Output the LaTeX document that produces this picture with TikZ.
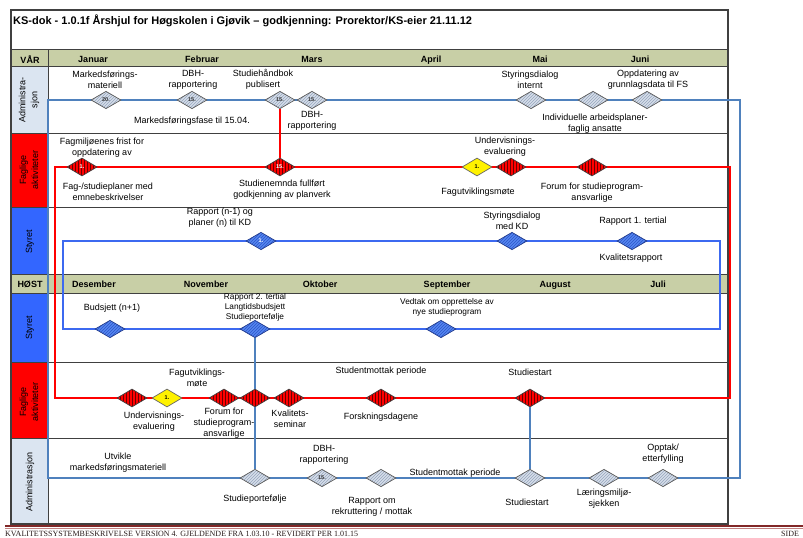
\documentclass[tikz,border=0pt]{standalone}
\usepackage{fontspec}
\setmainfont{Liberation Sans}
\newfontfamily\footfont{Liberation Serif}
\usetikzlibrary{shapes.geometric,patterns}

\definecolor{frame}{RGB}{64,64,64}
\definecolor{band}{RGB}{200,207,166}
\definecolor{admcell}{RGB}{219,229,241}
\definecolor{styrcell}{RGB}{51,102,255}
\definecolor{admline}{RGB}{79,129,189}
\definecolor{styrline}{RGB}{60,105,240}
\definecolor{gfill}{RGB}{214,222,233}
\definecolor{ghatch}{RGB}{150,165,190}
\definecolor{gborder}{RGB}{90,90,90}
\definecolor{rhatch}{RGB}{110,0,0}
\definecolor{bfill}{RGB}{85,135,240}
\definecolor{bhatch}{RGB}{45,85,200}
\definecolor{bborder}{RGB}{35,60,140}
\definecolor{footred}{RGB}{130,40,40}
\definecolor{footlight}{RGB}{195,130,130}
\definecolor{foottext}{RGB}{40,25,25}

\tikzset{
  txt/.style={font=\fontsize{9}{11}\selectfont, align=center, inner sep=0pt},
  smalltxt/.style={font=\fontsize{8.3}{10}\selectfont, align=center, inner sep=0pt},
  month/.style={font=\bfseries\fontsize{9}{11}\selectfont, inner sep=0pt,
    text height=6.6pt, text depth=0pt, anchor=south},
  celltxt/.style={font=\fontsize{9}{12}\selectfont, align=center, inner sep=0pt, rotate=90},
  dia/.style={diamond, minimum width=30pt, minimum height=17.5pt, inner sep=0pt,
    line width=0.7pt, font=\bfseries\fontsize{5.5}{6}\selectfont},
  gdia/.style={dia, preaction={fill=gfill}, pattern=north east lines,
    pattern color=ghatch, draw=gborder, text=black!80},
  rdia/.style={dia, minimum height=18pt, preaction={fill=red}, pattern=vertical lines,
    pattern color=rhatch, draw=black!75, text=white},
  ydia/.style={dia, minimum height=18pt, fill=yellow, draw=black!60, text=black},
  bdia/.style={dia, preaction={fill=bfill}, pattern=north east lines,
    pattern color=bhatch, draw=bborder, text=white},
  admloop/.style={draw=admline, line width=1.8pt},
  styrloop/.style={draw=styrline, line width=1.8pt},
  redloop/.style={draw=red, line width=2pt},
  redconn/.style={draw=red, line width=1.5pt},
  admconn/.style={draw=admline, line width=1.5pt},
  rule/.style={draw=frame, line width=1pt},
  foot/.style={anchor=north west, inner sep=0pt, text=foottext,
    font=\footfont\fontsize{8}{9}\selectfont},
}

\begin{document}
\begin{tikzpicture}[x=1pt,y=-1pt]
\clip (0,0) rectangle (803,538);
\fill[white] (0,0) rectangle (803,538);

% ---- table: bands and side cells
\fill[band] (11,49) rectangle (728,66);
\fill[band] (11,274) rectangle (728,293);
\fill[admcell] (11,66) rectangle (48,133);
\fill[red] (11,133) rectangle (48,207);
\fill[styrcell] (11,207) rectangle (48,274);
\fill[styrcell] (11,293) rectangle (48,362);
\fill[red] (11,362) rectangle (48,438);
\fill[admcell] (11,438) rectangle (48,524);

% ---- table rules
\foreach \yy in {49,66,133,207,274,293,362,438}
  \draw[rule] (11,\yy) -- (728,\yy);
\draw[rule] (48,49) -- (48,524);
\draw[frame, line width=1.3pt] (11,10) rectangle (728,524);

% ---- title
\node[anchor=west, font=\bfseries\fontsize{11}{13}\selectfont, inner sep=0pt] (title) at (13,21)
  {KS-dok - 1.0.1f Årshjul for Høgskolen i Gjøvik – godkjenning: Prorektor/KS-eier 21.11.12};

% ---- season headers and months
\node[month] (var) at (30,63.5) {VÅR};
\node[month] (jan) at (93,62.5) {Januar};
\node[month] (feb) at (202,62.5) {Februar};
\node[month] (mar) at (312,62.5) {Mars};
\node[month] (apr) at (431,62.5) {April};
\node[month] (mai) at (540,62.5) {Mai};
\node[month] (jun) at (640,62.5) {Juni};

\node[month] (host) at (30,287.5) {HØST};
\node[month] (des) at (94,287.5) {Desember};
\node[month] (nov) at (206,287.5) {November};
\node[month] (okt) at (320,287.5) {Oktober};
\node[month] (sep) at (447,287.5) {September};
\node[month] (aug) at (555,287.5) {August};
\node[month] (jul) at (658,287.5) {Juli};

% ---- side labels
\node[celltxt] (c1) at (29,100) {Administra-\\sjon};
\node[celltxt] (c2) at (29,170) {Faglige\\aktiviteter};
\node[celltxt] (c3) at (30,242) {Styret};
\node[celltxt] (c4) at (30,328) {Styret};
\node[celltxt] (c5) at (29,402) {Faglige\\aktiviteter};
\node[celltxt] (c6) at (30,482) {Administrasjon};

% ---- yearly loops
\draw[redloop] (55,167) rectangle (730,398);
\draw[styrloop] (63,241) rectangle (720,329);
\draw[admloop] (48,100) rectangle (740,478);

% ---- administration, spring
\node[gdia] (a1) at (106,100) {20.};
\node[gdia] (a2) at (192,100) {15.};
\node[gdia] (a3) at (280,100) {15.};
\node[gdia] (a4) at (312,100) {15.};
\node[gdia] (a5) at (531,100) {};
\node[gdia] (a6) at (593,100) {};
\node[gdia] (a7) at (647,100) {};
\node[txt] at (105,79.5) {Markedsførings-\\materiell};
\node[txt] at (193,79.5) {DBH-\\rapportering};
\node[txt] at (263,79.5) {Studiehåndbok\\publisert};
\node[txt] at (192,121) {Markedsføringsfase til 15.04.};
\node[txt] at (312,121) {DBH-\\rapportering};
\node[txt] at (530,79.5) {Styringsdialog\\internt};
\node[txt] at (648,79.5) {Oppdatering av\\grunnlagsdata til FS};
\node[txt] at (595,123.5) {Individuelle arbeidsplaner-\\faglig ansatte};

% ---- academic activities, spring
\node[rdia] (f1) at (82,167) {1.};
\node[rdia] (f2) at (280,167) {15.};
\node[ydia] (f3) at (477,167) {1.};
\node[rdia] (f4) at (511,167) {};
\node[rdia] (f5) at (592,167) {};
\node[txt] at (102,147.5) {Fagmiljøenes frist for\\oppdatering av};
\node[txt] at (108,192) {Fag-/studieplaner med\\emnebeskrivelser};
\node[txt] at (282,190) {Studienemnda fullført\\godkjenning av planverk};
\node[txt] at (505,146.5) {Undervisnings-\\evaluering};
\node[txt] at (478,192) {Fagutviklingsmøte};
\node[txt] at (592,192.5) {Forum for studieprogram-\\ansvarlige};

% ---- board, spring
\node[bdia] (s1) at (261,241) {1.};
\node[bdia] (s2) at (512,241) {};
\node[bdia] (s3) at (632,241) {};
\node[txt] at (220,218) {Rapport (n-1) og\\planer (n) til KD};
\node[txt] at (512,220.5) {Styringsdialog\\med KD};
\node[txt] at (633,221) {Rapport 1. tertial};
\node[txt] at (631,258) {Kvalitetsrapport};

% ---- board, autumn
\node[bdia] (s4) at (110,329) {};
\node[bdia] (s5) at (255,329) {};
\node[bdia] (s6) at (441,329) {};
\node[txt] at (112,308) {Budsjett (n+1)};
\node[smalltxt] at (255,307) {Rapport 2. tertial\\Langtidsbudsjett\\Studieportefølje};
\node[smalltxt] at (447,307) {Vedtak om opprettelse av\\nye studieprogram};

% ---- academic activities, autumn
\node[rdia] (g1) at (132,398) {};
\node[ydia] (g2) at (167,398) {1.};
\node[rdia] (g3) at (224,398) {};
\node[rdia] (g4) at (255,398) {};
\node[rdia] (g5) at (289,398) {};
\node[rdia] (g6) at (381,398) {};
\node[rdia] (g7) at (530,398) {};
\node[txt] at (197,377.5) {Fagutviklings-\\møte};
\node[txt] at (154,422) {Undervisnings-\\evaluering};
\node[txt] at (224,423) {Forum for\\studieprogram-\\ansvarlige};
\node[txt] at (290,418.5) {Kvalitets-\\seminar};
\node[txt] at (381,371) {Studentmottak periode};
\node[txt] at (381,417) {Forskningsdagene};
\node[txt] at (530,372) {Studiestart};

% ---- administration, autumn
\node[gdia] (b1) at (255,478) {};
\node[gdia] (b2) at (322,478) {15.};
\node[gdia] (b3) at (381,478) {};
\node[gdia] (b4) at (530,478) {};
\node[gdia] (b5) at (604,478) {};
\node[gdia] (b6) at (663,478) {};
\node[txt] at (118,463) {Utvikle\\markedsføringsmateriell};
\node[txt] at (255,499) {Studieportefølje};
\node[txt] at (324,454.5) {DBH-\\rapportering};
\node[txt] at (372,506.5) {Rapport om\\rekruttering / mottak};
\node[txt] at (455,473) {Studentmottak periode};
\node[txt] at (527,502) {Studiestart};
\node[txt] at (604,499) {Læringsmiljø-\\sjekken};
\node[txt] at (663,454) {Opptak/\\etterfylling};

% ---- links between the loops
\draw[redconn] (a3) -- (f2);
\draw[admconn] (s5) -- (g4);
\draw[admconn] (g4) -- (b1);
\draw[admconn] (g7) -- (b4);

% ---- footer
\draw[footred, line width=1.3pt] (5,526) -- (803,526);
\draw[footlight, line width=0.8pt] (5,528) -- (803,528);
\node[foot] (footline) at (5,530.5)
  {KVALITETSSYSTEMBESKRIVELSE VERSION 4. GJELDENDE FRA 1.03.10 - REVIDERT PER 1.01.15};
\node[foot] (side) at (781,530.5) {SIDE};
\end{tikzpicture}
\end{document}
